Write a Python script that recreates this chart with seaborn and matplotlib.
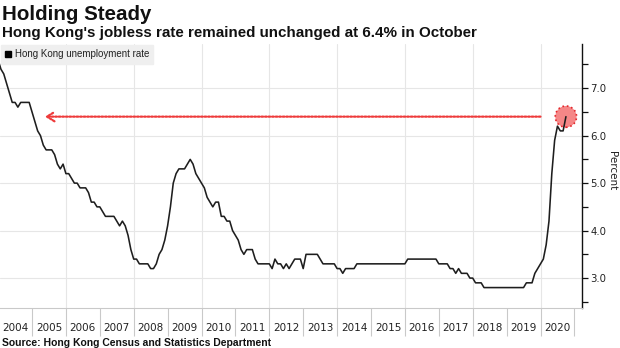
import matplotlib
matplotlib.use("Agg")
import matplotlib.pyplot as plt
import seaborn as sns
import pandas as pd
from matplotlib.lines import Line2D
from matplotlib.ticker import FixedLocator, NullFormatter, MultipleLocator

# ---------------- data (monthly, 3-month average, %) ----------------
rate_2004 = [7.6, 7.4, 7.3, 7.1, 6.9, 6.7, 6.7, 6.6, 6.7, 6.7, 6.7, 6.7]
rate_2005 = [6.5, 6.3, 6.1, 6.0, 5.8, 5.7, 5.7, 5.7, 5.6, 5.4, 5.3, 5.4]
rate_2006 = [5.2, 5.2, 5.1, 5.0, 5.0, 4.9, 4.9, 4.9, 4.8, 4.6, 4.6, 4.5]
rate_2007 = [4.5, 4.4, 4.3, 4.3, 4.3, 4.3, 4.2, 4.1, 4.2, 4.1, 3.9, 3.6]
rate_2008 = [3.4, 3.4, 3.3, 3.3, 3.3, 3.3, 3.2, 3.2, 3.3, 3.5, 3.6, 3.8]
rate_2009 = [4.1, 4.5, 5.0, 5.2, 5.3, 5.3, 5.3, 5.4, 5.5, 5.4, 5.2, 5.1]
rate_2010 = [5.0, 4.9, 4.7, 4.6, 4.5, 4.6, 4.6, 4.3, 4.3, 4.2, 4.2, 4.0]
rate_2011 = [3.9, 3.8, 3.6, 3.5, 3.6, 3.6, 3.6, 3.4, 3.3, 3.3, 3.3, 3.3]
rate_2012 = [3.3, 3.2, 3.4, 3.3, 3.3, 3.2, 3.3, 3.2, 3.3, 3.4, 3.4, 3.4]
rate_2013 = [3.2, 3.5, 3.5, 3.5, 3.5, 3.5, 3.4, 3.3, 3.3, 3.3, 3.3, 3.3]
rate_2014 = [3.2, 3.2, 3.1, 3.2, 3.2, 3.2, 3.2, 3.3, 3.3, 3.3, 3.3, 3.3]
rate_2015 = [3.3, 3.3, 3.3, 3.3, 3.3, 3.3, 3.3, 3.3, 3.3, 3.3, 3.3, 3.3]
rate_2016 = [3.3, 3.4, 3.4, 3.4, 3.4, 3.4, 3.4, 3.4, 3.4, 3.4, 3.4, 3.4]
rate_2017 = [3.3, 3.3, 3.3, 3.3, 3.2, 3.2, 3.1, 3.2, 3.1, 3.1, 3.1, 3.0]
rate_2018 = [3.0, 2.9, 2.9, 2.9, 2.8, 2.8, 2.8, 2.8, 2.8, 2.8, 2.8, 2.8]
rate_2019 = [2.8, 2.8, 2.8, 2.8, 2.8, 2.8, 2.8, 2.9, 2.9, 2.9, 3.1, 3.2]
rate_2020 = [3.3, 3.4, 3.7, 4.2, 5.2, 5.9, 6.2, 6.1, 6.1, 6.4]

first_year = 2004
year_labels = ["2004", "2005", "2006", "2007", "2008", "2009", "2010", "2011",
               "2012", "2013", "2014", "2015", "2016", "2017", "2018", "2019", "2020"]
y_tick_values = [3.0, 4.0, 5.0, 6.0, 7.0]
y_tick_labels = ["3.0", "4.0", "5.0", "6.0", "7.0"]
series_name = "Hong Kong unemployment rate"
title = "Holding Steady"
subtitle = "Hong Kong's jobless rate remained unchanged at 6.4% in October"
source = "Source: Hong Kong Census and Statistics Department"
y_label = "Percent"

rates = (rate_2004 + rate_2005 + rate_2006 + rate_2007 + rate_2008 + rate_2009 +
         rate_2010 + rate_2011 + rate_2012 + rate_2013 + rate_2014 + rate_2015 +
         rate_2016 + rate_2017 + rate_2018 + rate_2019 + rate_2020)
times = [first_year + i / 12 for i in range(len(rates))]
df = pd.DataFrame({"time": times, "rate": rates})

# ---------------- style ----------------
sns.set_theme(style="white")
plt.rcParams["font.family"] = ["DejaVu Sans"]
plt.rcParams["axes.grid"] = False

W, H = 620, 348
fig = plt.figure(figsize=(W / 100, H / 100), dpi=100)
ax_left, ax_right, ax_top, ax_bottom = 0, 582, 44, 308
ax = fig.add_axes([ax_left / W, (H - ax_bottom) / H,
                   (ax_right - ax_left) / W, (ax_bottom - ax_top) / H])

# highlight circle at the latest value
last_t, last_v = times[-1], rates[-1]
ax.scatter([last_t], [last_v], s=235, facecolor=(0.95, 0.35, 0.35, 0.72),
           edgecolor="#e3262b", linewidths=1.2, linestyles=":", zorder=2)

sns.lineplot(data=df, x="time", y="rate", ax=ax, color="#1e1e1e",
             linewidth=1.15, legend=False, zorder=3)

# dotted arrow pointing back to the start level
ax.annotate("", xy=(2005.38, last_v), xytext=(last_t - 0.75, last_v),
            arrowprops=dict(arrowstyle="->,head_length=0.45,head_width=0.28",
                            color="#ee3b3b", lw=1.6, linestyle=(0, (0.8, 0.8)),
                            shrinkA=0, shrinkB=0), zorder=2)

# axes limits
ax.set_xlim(2004.056, 2021.224)
ax.set_ylim(2.37, 7.93)

# x axis: year boundaries as ticks, labels at mid-year
boundaries = [first_year + 1 + i for i in range(len(year_labels))]
mids = [first_year + i + 0.5 for i in range(len(year_labels))]
ax.xaxis.set_major_locator(FixedLocator(boundaries))
ax.xaxis.set_major_formatter(NullFormatter())
ax.set_xticks(mids, year_labels, minor=True)
ax.tick_params(axis="x", which="major", direction="out", length=20, width=0.8,
               color="#c9c9c9", bottom=True)
ax.tick_params(axis="x", which="minor", length=0, pad=11, labelsize=7.5,
               labelcolor="#222222", bottom=True)
ax.xaxis.grid(False, which="both")

# vertical grid every second year
for b in boundaries:
    if b % 2 == 0:
        ax.axvline(b, color="#e6e6e6", lw=0.8, zorder=0)

# y axis on the right
ax.yaxis.tick_right()
ax.set_yticks(y_tick_values, y_tick_labels)
ax.yaxis.set_minor_locator(MultipleLocator(0.5))
ax.tick_params(axis="y", which="both", direction="out", length=4, width=0.9,
               color="#111111", right=True, left=False, pad=2,
               labelsize=7.3, labelcolor="#222222")
ax.yaxis.grid(True, which="major", color="#e6e6e6", lw=0.8, zorder=0)
ax.yaxis.grid(False, which="minor")
ax.set_axisbelow(True)
ax.set_xlabel("")
ax.set_ylabel("")
ax.text(612 / 582, (ax_bottom - 171) / (ax_bottom - ax_top), y_label,
        transform=ax.transAxes, rotation=270, ha="center", va="center",
        fontsize=7.5, color="#222222")

for side in ["left", "top"]:
    ax.spines[side].set_visible(False)
ax.spines["right"].set_color("#111111")
ax.spines["right"].set_linewidth(1.0)
ax.spines["bottom"].set_color("#c9c9c9")
ax.spines["bottom"].set_linewidth(0.8)

# legend
handle = Line2D([], [], marker="s", linestyle="none", color="black", markersize=4.5)
leg = ax.legend([handle], [series_name], loc="upper left", bbox_to_anchor=(0, 1),
                borderaxespad=0.1, frameon=True, fancybox=False, framealpha=1,
                facecolor="#efefef", edgecolor="#efefef", handlelength=0.6,
                handletextpad=0.35, borderpad=0.45,
                prop={"family": "Liberation Sans", "size": 7})
for t in leg.get_texts():
    t.set_color("#222222")

# titles and source
fig.text(2 / W, 1 - 19.5 / H, title, fontsize=14.8, fontweight="bold",
         family="Liberation Sans", va="baseline", ha="left", color="#111111")
fig.text(2 / W, 1 - 37 / H, subtitle, fontsize=10.9, fontweight="bold",
         family="Liberation Sans", va="baseline", ha="left", color="#111111")
fig.text(2 / W, 1 - 345.5 / H, source, fontsize=7.5, fontweight="bold",
         family="Liberation Sans", va="baseline", ha="left", color="#111111")

fig.savefig("out.png", dpi=100)
